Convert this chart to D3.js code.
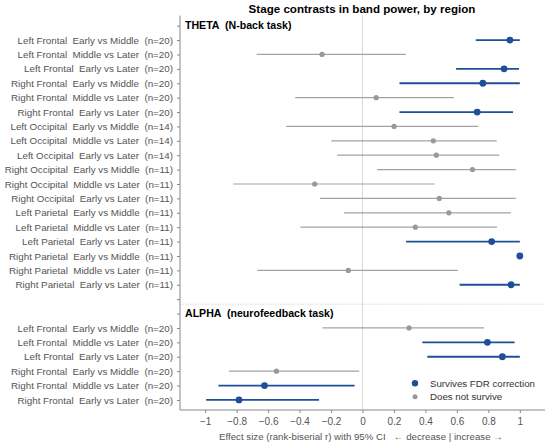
<!DOCTYPE html>
<html>
<head>
<meta charset="utf-8">
<script src="https://cdn.jsdelivr.net/npm/d3@7"></script>
<style>
  body { margin: 0; background: #fff; }
  svg text { font-family: "Liberation Sans", Arial, sans-serif; }
</style>
</head>
<body>
<svg id="chart"></svg>
<script>
// Forest plot: stage contrasts

const width = 550;
const height = 446;

// data
const thetaRegions = ["Left Frontal", "Left Frontal", "Left Frontal", "Right Frontal", "Right Frontal", "Right Frontal",
  "Left Occipital", "Left Occipital", "Left Occipital", "Right Occipital", "Right Occipital", "Right Occipital",
  "Left Parietal", "Left Parietal", "Left Parietal", "Right Parietal", "Right Parietal", "Right Parietal"];
const contrasts = ["Early vs Middle", "Middle vs Later", "Early vs Later"];
const thetaN = [20, 20, 20, 20, 20, 20, 14, 14, 14, 11, 11, 11, 11, 11, 11, 11, 11, 11];
const thetaR = [0.937, -0.257, 0.90, 0.765, 0.087, 0.729, 0.201, 0.45, 0.469, 0.699, -0.304, 0.488, 0.549, 0.336, 0.821, 1.0, -0.09, 0.944];
const thetaLo = [0.72, -0.673, 0.595, 0.235, -0.428, 0.235, -0.485, -0.198, -0.162, 0.093, -0.821, -0.27, -0.118, -0.395, 0.277, 1.0, -0.669, 0.617];
const thetaHi = [1.0, 0.275, 0.995, 1.0, 0.581, 0.957, 0.737, 0.853, 0.87, 0.976, 0.458, 0.976, 0.944, 0.855, 1.0, 1.0, 0.606, 1.0];
const thetaSig = [true, false, true, true, false, true, false, false, false, false, false, false, false, false, true, true, false, true];

const alphaRegions = ["Left Frontal", "Left Frontal", "Left Frontal", "Right Frontal", "Right Frontal", "Right Frontal"];
const alphaN = [20, 20, 20, 20, 20, 20];
const alphaR = [0.296, 0.794, 0.889, -0.547, -0.623, -0.785];
const alphaLo = [-0.255, 0.38, 0.412, -0.849, -0.916, -0.994];
const alphaHi = [0.773, 0.967, 1.0, -0.021, -0.05, -0.276];
const alphaSig = [false, true, true, false, true, true];

const xTicks = [-1, -0.8, -0.6, -0.4, -0.2, 0, 0.2, 0.4, 0.6, 0.8, 1];

const blue = "#1f4f96";
const gray = "#a3a3a3";

// build rows: slot 0 = THETA header, 1-18 theta, 19 blank, 20 ALPHA header, 21-26 alpha
const rows = [];
thetaR.forEach((r, i) => rows.push({
  slot: i + 1,
  label: thetaRegions[i] + "  " + contrasts[i % 3] + "  (n=" + thetaN[i] + ")",
  r: r, lo: thetaLo[i], hi: thetaHi[i], sig: thetaSig[i]
}));
alphaR.forEach((r, i) => rows.push({
  slot: i + 21,
  label: alphaRegions[i] + "  " + contrasts[i % 3] + "  (n=" + alphaN[i] + ")",
  r: r, lo: alphaLo[i], hi: alphaHi[i], sig: alphaSig[i]
}));

const margin = { left: 180, right: 5 };

const x = d3.scaleLinear()
  .domain([-1.16, 1.16])
  .range([180, 545]);

const y = d3.scaleLinear()
  .domain([-0.7, 26.7])
  .range([15.6, 410]);

const svg = d3.select("#chart")
  .attr("width", width)
  .attr("height", height);

// zero line
svg.append("line")
  .attr("x1", x(0)).attr("x2", x(0))
  .attr("y1", y(-0.7)).attr("y2", y(26.7))
  .attr("stroke", "#d0d0d0")
  .attr("stroke-width", 0.8);

// divider between bands
svg.append("line")
  .attr("x1", x(-1.16)).attr("x2", x(1.16))
  .attr("y1", y(19.35)).attr("y2", y(19.35))
  .attr("stroke", "#d6d6d6")
  .attr("stroke-width", 0.8)
  .attr("stroke-dasharray", "1.5,1");

// y axis
const yTickSlots = d3.range(0, 27);
const labelBySlot = {};
rows.forEach(d => labelBySlot[d.slot] = d.label);

const yAxis = d3.axisLeft(y)
  .tickValues(yTickSlots)
  .tickSize(3)
  .tickPadding(4)
  .tickFormat(s => labelBySlot[s] || "");

const yg = svg.append("g")
  .attr("transform", "translate(" + margin.left + ",0)")
  .call(yAxis);
yg.select(".domain").attr("stroke", "#888").attr("d", "M0," + y(-0.7) + "V" + y(26.7));
yg.selectAll(".tick line").attr("stroke", "#888");
yg.selectAll(".tick text")
  .attr("fill", "#555")
  .style("font-size", "9.8px")
  .style("white-space", "pre");

// x axis
const xAxis = d3.axisBottom(x)
  .tickValues(xTicks)
  .tickSize(3)
  .tickPadding(5)
  .tickFormat(d => d3.format("")(d).replace("-", "\u2212"));

const xg = svg.append("g")
  .attr("transform", "translate(0," + y(26.7) + ")")
  .call(xAxis);
xg.select(".domain").attr("stroke", "#888").attr("d", "M" + x(-1.16) + ",0H" + x(1.16));
xg.selectAll(".tick line").attr("stroke", "#888");
xg.selectAll(".tick text")
  .attr("fill", "#555")
  .style("font-size", "10px");

// CI lines
svg.selectAll(".ci")
  .data(rows)
  .enter()
  .append("line")
  .attr("class", "ci")
  .attr("x1", d => x(d.lo))
  .attr("x2", d => x(d.hi))
  .attr("y1", d => y(d.slot))
  .attr("y2", d => y(d.slot))
  .attr("stroke", d => d.sig ? blue : gray)
  .attr("stroke-width", d => d.sig ? 1.8 : 1.2);

// points
svg.selectAll(".dot")
  .data(rows)
  .enter()
  .append("circle")
  .attr("class", "dot")
  .attr("cx", d => x(d.r))
  .attr("cy", d => y(d.slot))
  .attr("r", d => d.sig ? 3.4 : 2.6)
  .attr("fill", d => d.sig ? blue : "#999");

// band headers
svg.append("text")
  .attr("x", 185)
  .attr("y", y(0))
  .attr("dy", "0.35em")
  .style("font-size", "10.6px")
  .style("font-weight", "bold")
  .style("white-space", "pre")
  .text("THETA  (N-back task)");

svg.append("text")
  .attr("x", 185)
  .attr("y", y(20))
  .attr("dy", "0.35em")
  .style("font-size", "10.6px")
  .style("font-weight", "bold")
  .style("white-space", "pre")
  .text("ALPHA  (neurofeedback task)");

// title
svg.append("text")
  .attr("x", 362)
  .attr("y", 13)
  .style("text-anchor", "middle")
  .style("font-size", "11.6px")
  .style("font-weight", "bold")
  .text("Stage contrasts in band power, by region");

// x label
svg.append("text")
  .attr("x", 361)
  .attr("y", 440)
  .style("text-anchor", "middle")
  .style("font-size", "9.7px")
  .style("white-space", "pre")
  .attr("fill", "#555")
  .text("Effect size (rank-biserial r) with 95% CI   \u2190 decrease | increase \u2192");

// legend
const legendItems = [
  { label: "Survives FDR correction", color: blue, r: 3.2 },
  { label: "Does not survive", color: "#999", r: 2.5 }
];
const legend = svg.selectAll(".legend")
  .data(legendItems)
  .enter()
  .append("g")
  .attr("class", "legend")
  .attr("transform", (d, i) => "translate(415," + (383.3 + i * 13.4) + ")");

legend.append("circle")
  .attr("r", d => d.r)
  .attr("fill", d => d.color);

legend.append("text")
  .attr("x", 15)
  .attr("dy", "0.35em")
  .style("font-size", "9.7px")
  .attr("fill", "#333")
  .text(d => d.label);
</script>
</body>
</html>
